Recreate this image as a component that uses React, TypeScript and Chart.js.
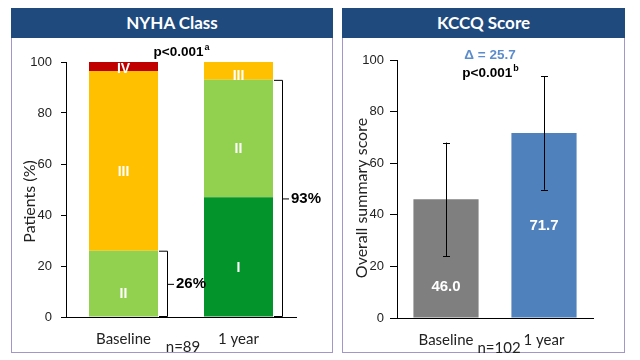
import React, { useEffect, useRef } from 'react';
import { Chart, registerables } from 'chart.js';
Chart.register(...registerables);

// ---------- NYHA Class data ----------
const nyhaCategories = ['Baseline', '1 year'];
const nyhaClassI = [0, 47];
const nyhaClassII = [26, 46];
const nyhaClassIII = [70.5, 7];
const nyhaClassIV = [3.5, 0];
const nyhaClassNames = ['I', 'II', 'III', 'IV'];
const nyhaClassColors = ['#03942b', '#92d050', '#ffc000', '#c00000'];
const nyhaBracketValues = [26, 93];
const nyhaBracketLabels = ['26%', '93%'];
const nyhaPText = 'p<0.001';
const nyhaPSup = 'a';
const nyhaN = 'n=89';
const nyhaYTicks = [0, 20, 40, 60, 80, 100];

// ---------- KCCQ data ----------
const kccqCategories = ['Baseline', '1 year'];
const kccqMeans = [46.0, 71.7];
const kccqSD = [22, 22];
const kccqColors = ['#7f7f7f', '#4f81bd'];
const kccqDelta = 'Δ = 25.7';
const kccqPText = 'p<0.001';
const kccqPSup = 'b';
const kccqN = 'n=102';
const kccqYTicks = [0, 20, 40, 60, 80, 100];

const ARIAL = '"Liberation Sans", Arial, sans-serif';
const CAL = 'Lato, "Open Sans", sans-serif';

function drawSupText(ctx: CanvasRenderingContext2D, main: string, sup: string, cx: number, cy: number, size: number, color: string) {
  ctx.save();
  ctx.fillStyle = color;
  ctx.textBaseline = 'middle';
  ctx.textAlign = 'left';
  ctx.font = `bold ${size}px ${ARIAL}`;
  const w1 = ctx.measureText(main).width;
  ctx.font = `bold ${Math.round(size * 0.65)}px ${ARIAL}`;
  const w2 = ctx.measureText(sup).width;
  const x0 = cx - (w1 + w2) / 2;
  ctx.font = `bold ${size}px ${ARIAL}`;
  ctx.fillText(main, x0, cy);
  ctx.font = `bold ${Math.round(size * 0.65)}px ${ARIAL}`;
  ctx.fillText(sup, x0 + w1 + 1, cy - size * 0.35);
  ctx.restore();
}

function drawYTitle(ctx: CanvasRenderingContext2D, text: string, x: number, y: number) {
  ctx.save();
  ctx.translate(x, y);
  ctx.rotate(-Math.PI / 2);
  ctx.font = `16px ${CAL}`;
  ctx.fillStyle = '#222';
  ctx.textAlign = 'center';
  ctx.textBaseline = 'middle';
  ctx.fillText(text, 0, 0);
  ctx.restore();
}

const nyhaPlugin = {
  id: 'nyhaAnno',
  afterDatasetsDraw(chart: any) {
    const ctx: CanvasRenderingContext2D = chart.ctx;
    const area = chart.chartArea;
    const y = chart.scales.y;
    // segment labels
    chart.data.datasets.forEach((ds: any, i: number) => {
      const meta = chart.getDatasetMeta(i);
      meta.data.forEach((el: any, j: number) => {
        const v = ds.data[j];
        if (!v) return;
        const p = el.getProps(['x', 'y', 'base'], true);
        const h = p.base - p.y;
        const cy = (p.y + p.base) / 2 + Math.min(11, h * 0.3);
        ctx.save();
        ctx.font = `bold 14px ${ARIAL}`;
        ctx.fillStyle = '#ffffff';
        ctx.textAlign = 'center';
        ctx.textBaseline = 'middle';
        ctx.fillText(nyhaClassNames[i], p.x, cy);
        ctx.restore();
      });
    });
    // brackets
    const lastMeta = chart.getDatasetMeta(chart.data.datasets.length - 1);
    nyhaBracketValues.forEach((bv, j) => {
      const el = lastMeta.data[j];
      const p = el.getProps(['x', 'width'], true);
      const x0 = p.x + p.width / 2 + 1;
      const x1 = x0 + 8;
      const yt = y.getPixelForValue(bv);
      const yb = y.getPixelForValue(0);
      const ym = (yt + yb) / 2;
      ctx.save();
      ctx.strokeStyle = '#000';
      ctx.lineWidth = 1;
      ctx.beginPath();
      ctx.moveTo(x0, yt + 0.5);
      ctx.lineTo(x1 + 0.5, yt + 0.5);
      ctx.lineTo(x1 + 0.5, yb - 0.5);
      ctx.lineTo(x0, yb - 0.5);
      ctx.moveTo(x1 + 0.5, ym + 0.5);
      ctx.lineTo(x1 + 7, ym + 0.5);
      ctx.stroke();
      ctx.font = `bold 15px ${ARIAL}`;
      ctx.fillStyle = '#000';
      ctx.textAlign = 'left';
      ctx.textBaseline = 'middle';
      ctx.fillText(nyhaBracketLabels[j], x1 + 9, ym);
      ctx.restore();
    });
    const cx = (area.left + area.right) / 2;
    drawSupText(ctx, nyhaPText, nyhaPSup, cx, area.top - 10, 13.5, '#000');
    ctx.save();
    ctx.font = `15px ${CAL}`;
    ctx.fillStyle = '#222';
    ctx.textAlign = 'center';
    ctx.textBaseline = 'middle';
    ctx.fillText(nyhaN, cx + 2, area.bottom + 30);
    ctx.restore();
    drawYTitle(ctx, 'Patients (%)', area.left - 36, (area.top + area.bottom) / 2 + 12);
  },
};

const kccqPlugin = {
  id: 'kccqAnno',
  afterDatasetsDraw(chart: any) {
    const ctx: CanvasRenderingContext2D = chart.ctx;
    const area = chart.chartArea;
    const y = chart.scales.y;
    const meta = chart.getDatasetMeta(0);
    meta.data.forEach((el: any, j: number) => {
      const p = el.getProps(['x', 'y', 'base', 'width'], true);
      const m = kccqMeans[j];
      const sd = kccqSD[j];
      const yt = y.getPixelForValue(m + sd);
      const yb = y.getPixelForValue(m - sd);
      const x = Math.round(p.x) + 0.5;
      ctx.save();
      ctx.strokeStyle = '#000';
      ctx.lineWidth = 1;
      ctx.beginPath();
      ctx.moveTo(x, yt);
      ctx.lineTo(x, yb);
      ctx.moveTo(x - 3.5, Math.round(yt) + 0.5);
      ctx.lineTo(x + 3.5, Math.round(yt) + 0.5);
      ctx.moveTo(x - 3.5, Math.round(yb) + 0.5);
      ctx.lineTo(x + 3.5, Math.round(yb) + 0.5);
      ctx.stroke();
      // value label
      const half = m / 2;
      const lv = half < m - sd - 8 ? half : (m - sd) / 2;
      ctx.font = `bold 15px ${ARIAL}`;
      ctx.fillStyle = '#fff';
      ctx.textAlign = 'center';
      ctx.textBaseline = 'middle';
      ctx.fillText(m.toFixed(1), p.x, y.getPixelForValue(lv));
      ctx.restore();
    });
    const cx = (area.left + area.right) / 2 - 5;
    ctx.save();
    ctx.font = `bold 13.5px ${ARIAL}`;
    ctx.fillStyle = '#5b8ccb';
    ctx.textAlign = 'center';
    ctx.textBaseline = 'middle';
    ctx.fillText(kccqDelta, cx, area.top - 5);
    ctx.restore();
    drawSupText(ctx, kccqPText, kccqPSup, cx, area.top + 13, 13.5, '#000');
    ctx.save();
    ctx.font = `15px ${CAL}`;
    ctx.fillStyle = '#222';
    ctx.textAlign = 'center';
    ctx.textBaseline = 'middle';
    ctx.fillText(kccqN, cx + 9, area.bottom + 30);
    ctx.restore();
    drawYTitle(ctx, 'Overall summary score', area.left - 35, (area.top + area.bottom) / 2 + 9);
  },
};

function makeScales(ticks: number[], yWidth: number, xHeight: number, tickLen: number, tickPad: number) {
  return {
    x: {
      stacked: true,
      grid: { display: false },
      border: { display: true, color: '#000', width: 1 },
      ticks: { color: '#222', font: { family: CAL, size: 15 }, padding: 5 },
      afterFit: (s: any) => { s.height = xHeight; },
    },
    y: {
      stacked: true,
      min: 0,
      max: 100,
      grid: { drawOnChartArea: false, drawTicks: true, tickLength: tickLen, color: '#000' },
      border: { display: true, color: '#000', width: 1 },
      ticks: { color: '#222', font: { family: ARIAL, size: 13 }, padding: tickPad },
      afterBuildTicks: (s: any) => { s.ticks = ticks.map((v) => ({ value: v })); },
      afterFit: (s: any) => { s.width = yWidth; },
    },
  };
}

function NyhaChart() {
  const ref = useRef<HTMLCanvasElement>(null);
  useEffect(() => {
    const series = [nyhaClassI, nyhaClassII, nyhaClassIII, nyhaClassIV];
    const chart = new Chart(ref.current!, {
      type: 'bar',
      data: {
        labels: nyhaCategories,
        datasets: series.map((d, i) => ({
          label: nyhaClassNames[i],
          data: d,
          backgroundColor: nyhaClassColors[i],
          borderWidth: 0,
          categoryPercentage: 1,
          barPercentage: 0.6,
        })),
      },
      options: {
        responsive: false,
        animation: false,
        devicePixelRatio: 1,
        layout: { padding: { left: 0, top: 24, right: 37, bottom: 0 } },
        plugins: { legend: { display: false }, tooltip: { enabled: false } },
        scales: makeScales(nyhaYTicks, 55, 36, 5, 9) as any,
      },
      plugins: [nyhaPlugin],
    });
    return () => chart.destroy();
  }, []);
  return <canvas ref={ref} width={322} height={315} style={{ position: 'absolute', left: 11, top: 38, width: 322, height: 315 }} />;
}

function KccqChart() {
  const ref = useRef<HTMLCanvasElement>(null);
  useEffect(() => {
    const chart = new Chart(ref.current!, {
      type: 'bar',
      data: {
        labels: kccqCategories,
        datasets: [
          {
            label: 'KCCQ',
            data: kccqMeans,
            backgroundColor: kccqColors,
            borderWidth: 0,
            categoryPercentage: 1,
            barPercentage: 0.665,
          },
        ],
      },
      options: {
        responsive: false,
        animation: false,
        devicePixelRatio: 1,
        layout: { padding: { left: 0, top: 22, right: 32, bottom: 0 } },
        plugins: { legend: { display: false }, tooltip: { enabled: false } },
        scales: makeScales(kccqYTicks, 55, 35, 7, 6) as any,
      },
      plugins: [kccqPlugin],
    });
    return () => chart.destroy();
  }, []);
  return <canvas ref={ref} width={283} height={315} style={{ position: 'absolute', left: 342, top: 38, width: 283, height: 315 }} />;
}

function Panel({ left, width, title }: { left: number; width: number; title: string }) {
  return (
    <>
      <div style={{ position: 'absolute', left, top: 8, width, height: 345, border: '1.5px solid #a397c9', boxSizing: 'border-box' }} />
      <div
        style={{
          position: 'absolute', left, top: 8, width, height: 30, background: '#1f4a7e', color: '#fff',
          fontFamily: CAL, fontWeight: 700, fontSize: 17, lineHeight: '30px', textAlign: 'center',
        }}
      >
        {title}
      </div>
    </>
  );
}

export default function App() {
  return (
    <div style={{ position: 'fixed', left: 0, top: 0, width: 640, height: 360, background: '#fff', overflow: 'hidden' }}>
      <Panel left={11} width={322} title="NYHA Class" />
      <Panel left={342} width={283} title="KCCQ Score" />
      <NyhaChart />
      <KccqChart />
    </div>
  );
}
